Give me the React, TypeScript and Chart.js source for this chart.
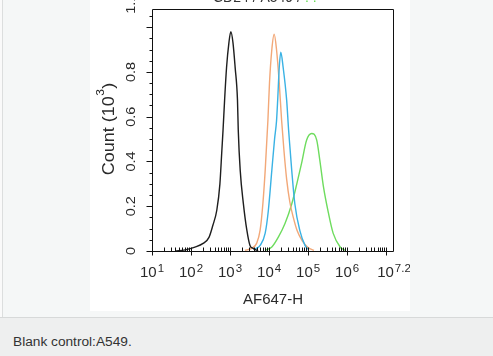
import React, { useEffect, useRef } from "react";
import { Chart, registerables } from "chart.js";

Chart.register(...registerables);

// ---- data (x as log10 of AF647-H intensity, y as count in 10^3) ----
const blackLog = [1.59, 1.85, 2.1, 2.31, 2.46, 2.56, 2.66, 2.74, 2.79, 2.82, 2.86, 2.91, 2.97, 3.02, 3.075, 3.13, 3.19, 3.21, 3.26, 3.34, 3.43, 3.51, 3.59, 3.72];
const blackCount = [0.0, 0.005, 0.017, 0.034, 0.061, 0.115, 0.182, 0.3, 0.45, 0.54, 0.674, 0.82, 0.93, 0.98, 0.93, 0.82, 0.674, 0.54, 0.36, 0.213, 0.093, 0.025, 0.012, 0.0];

const orangeLog = [3.38, 3.55, 3.68, 3.77, 3.84, 3.9, 3.97, 4.01, 4.07, 4.13, 4.19, 4.26, 4.32, 4.38, 4.45, 4.53, 4.62, 4.72, 4.85, 5.0, 5.15];
const orangeCount = [0.003, 0.012, 0.034, 0.093, 0.21, 0.36, 0.585, 0.75, 0.9, 0.968, 0.9, 0.75, 0.585, 0.45, 0.32, 0.22, 0.15, 0.09, 0.045, 0.015, 0.003];

const blueLog = [3.64, 3.77, 3.9, 3.98, 4.07, 4.14, 4.19, 4.22, 4.26, 4.3, 4.36, 4.45, 4.5, 4.54, 4.58, 4.66, 4.79, 4.92, 5.0];
const blueCount = [0.008, 0.025, 0.08, 0.18, 0.36, 0.5, 0.58, 0.674, 0.82, 0.888, 0.82, 0.674, 0.54, 0.45, 0.36, 0.21, 0.09, 0.025, 0.007];

const greenLog = [3.9, 4.07, 4.24, 4.41, 4.58, 4.71, 4.83, 4.96, 5.09, 5.22, 5.3, 5.39, 5.52, 5.64, 5.82, 5.94];
const greenCount = [0.003, 0.018, 0.063, 0.124, 0.21, 0.3, 0.39, 0.495, 0.525, 0.495, 0.405, 0.29, 0.17, 0.08, 0.018, 0.003];

// ---- axes ----
const xMajorExponents = [1, 2, 3, 4, 5, 6, 7.2];
const xTickExponentLabels = ["1", "2", "3", "4", "5", "6", "7.2"];
const xMin = 10;
const xMax = Math.pow(10, 7.2);
const yMin = 0;
const yMax = 1.081;
const yMajorTicks = [0, 0.2, 0.4, 0.6, 0.8, 1.0];
const yTickValues = [0, 0.2, 0.4, 0.6, 0.8, 1.105];
const yTickLabels = ["0", "0.2", "0.4", "0.6", "0.8", "1.1"];
const yMinorStep = 0.05;

const xTitle = "AF647-H";
const yTitleMain = "Count (10";
const yTitleSup = "3";
const yTitleEnd = ")";
const topTitleDark = "CD24 / A549 /";
const topTitleGreen = ". .";
const caption = "Blank control:A549.";

const FONT = '"Liberation Sans", Arial, sans-serif';
const TEXT = "#2a2a2a";

const axesPlugin = {
  id: "flowAxes",
  afterDraw(chart: any) {
    const ctx: CanvasRenderingContext2D = chart.ctx;
    const { left, right, top, bottom } = chart.chartArea;
    const xs = chart.scales.x;
    const ys = chart.scales.y;
    const L = Math.round(left) + 0.5;
    const R = Math.round(right) - 0.5;
    const T = Math.round(top) + 0.5;
    const B = Math.round(bottom) + 0.5;
    ctx.save();
    ctx.strokeStyle = "#111";
    ctx.lineWidth = 1;
    ctx.beginPath();
    ctx.moveTo(L, T);
    ctx.lineTo(R, T);
    ctx.lineTo(R, B);
    ctx.lineTo(L, B);
    ctx.closePath();
    ctx.stroke();

    // y ticks (outward)
    ctx.beginPath();
    for (let v = yMinorStep; v < yMax; v += yMinorStep) {
      const isMajor = yMajorTicks.some((m) => Math.abs(m - v) < 1e-6);
      if (isMajor) continue;
      const p = Math.round(ys.getPixelForValue(v)) + 0.5;
      ctx.moveTo(L, p);
      ctx.lineTo(L - 3, p);
    }
    yMajorTicks.forEach((v) => {
      const p = Math.round(ys.getPixelForValue(v)) + 0.5;
      ctx.moveTo(L, p);
      ctx.lineTo(L - 6, p);
    });
    // x ticks
    for (let k = 1; k <= 7; k++) {
      for (let m = 2; m <= 9; m++) {
        const v = m * Math.pow(10, k);
        if (v > xMax) continue;
        const p = Math.round(xs.getPixelForValue(v)) + 0.5;
        ctx.moveTo(p, B);
        ctx.lineTo(p, B - 4);
      }
    }
    for (let k = 1; k <= 7; k++) {
      const p = Math.round(xs.getPixelForValue(Math.pow(10, k))) + 0.5;
      ctx.moveTo(p, B - 4);
      ctx.lineTo(p, B + 4);
    }
    ctx.stroke();

    ctx.fillStyle = TEXT;
    // x tick labels 10^n
    xMajorExponents.forEach((e, i) => {
      const px = xs.getPixelForValue(Math.pow(10, e));
      ctx.font = `15px ${FONT}`;
      const w1 = ctx.measureText("10").width;
      ctx.font = `11.5px ${FONT}`;
      const w2 = ctx.measureText(xTickExponentLabels[i]).width;
      const start = px - (w1 + 1 + w2) / 2;
      ctx.textAlign = "left";
      ctx.textBaseline = "alphabetic";
      ctx.font = `15px ${FONT}`;
      ctx.fillText("10", start, 276.5);
      ctx.font = `11.5px ${FONT}`;
      ctx.fillText(xTickExponentLabels[i], start + w1 + 1, 272);
    });
    // x title
    ctx.font = `15px ${FONT}`;
    ctx.textAlign = "center";
    ctx.fillText(xTitle, (left + right) / 2, 304);

    // y tick labels (rotated)
    yTickValues.forEach((v, i) => {
      const py = ys.getPixelForValue(v);
      ctx.save();
      ctx.translate(left - 17, py);
      ctx.rotate(-Math.PI / 2);
      ctx.scale(1, 0.87);
      ctx.font = `14.5px ${FONT}`;
      ctx.textAlign = "center";
      ctx.textBaseline = "alphabetic";
      ctx.fillText(yTickLabels[i], 0, 0);
      ctx.restore();
    });

    // y title (rotated) with superscript
    ctx.save();
    ctx.translate(left - 38, (top + bottom) / 2 - 1);
    ctx.rotate(-Math.PI / 2);
    ctx.scale(1, 0.87);
    ctx.textAlign = "left";
    ctx.textBaseline = "alphabetic";
    ctx.font = `18px ${FONT}`;
    const a = ctx.measureText(yTitleMain).width;
    const c = ctx.measureText(yTitleEnd).width;
    ctx.font = `12px ${FONT}`;
    const b = ctx.measureText(yTitleSup).width;
    const total = a + b + c + 1;
    const s = -total / 2;
    ctx.font = `18px ${FONT}`;
    ctx.fillText(yTitleMain, s, 0);
    ctx.fillText(yTitleEnd, s + a + b + 1, 0);
    ctx.font = `12px ${FONT}`;
    ctx.fillText(yTitleSup, s + a + 0.5, -12);
    ctx.restore();

    // clipped title at the very top
    ctx.font = `14px ${FONT}`;
    ctx.textAlign = "left";
    ctx.fillStyle = "#333";
    ctx.fillText(topTitleDark, 123, 1.5);
    const wd = ctx.measureText(topTitleDark).width;
    ctx.fillStyle = "#66dd55";
    ctx.fillText(topTitleGreen, 123 + wd + 4, 1.5);
    ctx.restore();
  },
};

export default function App() {
  const ref = useRef<HTMLCanvasElement>(null);
  useEffect(() => {
    const canvas = ref.current;
    if (!canvas) return;
    const mk = (xsArr: number[], ysArr: number[]) =>
      xsArr.map((e, i) => ({ x: Math.pow(10, e), y: ysArr[i] }));
    const line = (data: any, color: string, width: number) => ({
      data,
      borderColor: color,
      borderWidth: width,
      backgroundColor: "transparent",
      fill: false,
      pointRadius: 0,
      cubicInterpolationMode: "monotone" as const,
    });
    const chart = new Chart(canvas, {
      type: "line",
      data: {
        datasets: [
          line(mk(blackLog, blackCount), "#1e1e1e", 1.4),
          line(mk(blueLog, blueCount), "#3ab2e4", 1.4),
          line(mk(orangeLog, orangeCount), "#f2a878", 1.4),
          line(mk(greenLog, greenCount), "#6edc5e", 1.4),
        ],
      },
      options: {
        responsive: false,
        animation: false,
        devicePixelRatio: 1,
        layout: { padding: { left: 62, right: 16, top: 9, bottom: 60 } },
        plugins: {
          legend: { display: false },
          tooltip: { enabled: false },
          title: { display: false },
        },
        scales: {
          x: { type: "logarithmic", min: xMin, max: xMax, display: false },
          y: { type: "linear", min: yMin, max: yMax, display: false },
        },
      },
      plugins: [axesPlugin],
    } as any);
    return () => chart.destroy();
  }, []);

  return (
    <div
      style={{
        position: "fixed",
        left: 0,
        top: 0,
        width: 493,
        height: 356,
        background: "#f5f7f7",
        overflow: "hidden",
      }}
    >
      <div style={{ position: "absolute", left: 0, top: 0, width: 2, height: 317, background: "#fafafa" }} />
      <div style={{ position: "absolute", left: 2, top: 0, width: 1, height: 317, background: "#dcdede" }} />
      <div style={{ position: "absolute", left: 90, top: 0, width: 320, height: 311, background: "#ffffff" }}>
        <canvas ref={ref} width={320} height={311} style={{ display: "block", width: 320, height: 311 }} />
      </div>
      <div
        style={{
          position: "absolute",
          left: 0,
          top: 317,
          width: 493,
          height: 39,
          background: "#eeefef",
          borderTop: "1px solid #d7d9d9",
          boxSizing: "border-box",
        }}
      >
        <span
          style={{
            position: "absolute",
            left: 13,
            top: 16,
            font: `13.7px ${FONT}`,
            lineHeight: "16px",
            color: "#333",
            whiteSpace: "nowrap",
          }}
        >
          {caption}
        </span>
      </div>
    </div>
  );
}
